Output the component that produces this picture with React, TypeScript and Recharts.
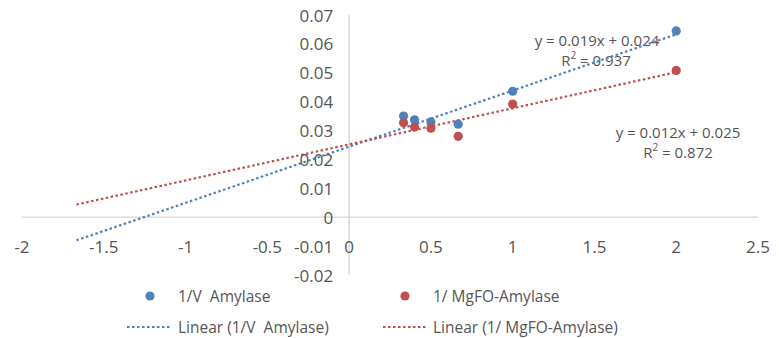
import { Legend, ReferenceLine, Scatter, ScatterChart, XAxis, YAxis } from "recharts";

// 1/[S] values shared by both series
const invSubstrate = [0.333, 0.4, 0.5, 0.667, 1, 2];
const invVAmylase = [0.035, 0.0337, 0.033, 0.0322, 0.0436, 0.0645];
const invVMgfo = [0.0327, 0.0312, 0.0308, 0.028, 0.0392, 0.0508];

// trendline end points (backward forecast to -1.667)
const amylaseTrend = [
  { x: -1.667, y: -0.008 },
  { x: 2, y: 0.0633 }
];
const mgfoTrend = [
  { x: -1.667, y: 0.0044 },
  { x: 2, y: 0.0502 }
];

const xTicks = [-2, -1.5, -1, -0.5, 0, 0.5, 1, 1.5, 2, 2.5];
const yTicks = [-0.02, -0.01, 0, 0.01, 0.02, 0.03, 0.04, 0.05, 0.06, 0.07];

const amylaseData = invSubstrate.map((x, i) => ({ x, y: invVAmylase[i] }));
const mgfoData = invSubstrate.map((x, i) => ({ x, y: invVMgfo[i] }));

const W = 779;
const H = 338;
const M = { top: 15, right: 21, bottom: 62, left: 21 };
const X_MIN = -2;
const X_MAX = 2.5;
const Y_MIN = -0.02;
const Y_MAX = 0.07;
const plotLeft = 22;
const plotW = W - plotLeft - M.right;
const plotH = H - M.top - M.bottom - 1;
const zeroX = plotLeft + ((0 - X_MIN) / (X_MAX - X_MIN)) * plotW;
const xLabelY = M.top + ((Y_MAX + 0.01) / (Y_MAX - Y_MIN)) * plotH;

const BLUE = "#4F81BD";
const RED = "#C0504D";
const TEXT = "#555555";
const AXIS = "#D4D4D4";
const FONT = "'Open Sans', sans-serif";
const DOTS = "2.5 2.5";

const dot = (color: string) => (p: any) => <circle cx={p.cx} cy={p.cy} r={4.6} fill={color} />;

const yTick = ({ y, payload }: any) => (
  <text x={zeroX - 16} y={y} textAnchor="end" dominantBaseline="central" fill={TEXT} fontSize={17} fontFamily={FONT}>
    {payload.value}
  </text>
);

const xTick = ({ x, payload }: any) => (
  <text x={x} y={xLabelY} textAnchor="middle" dominantBaseline="central" fill={TEXT} fontSize={17} fontFamily={FONT}>
    {payload.value}
  </text>
);

function LegendBox() {
  const t = {
    fill: TEXT,
    fontSize: 15.5,
    fontFamily: FONT,
    dominantBaseline: "central" as const,
    style: { whiteSpace: "pre" as const }
  };
  return (
    <svg width={W} height={56} style={{ display: "block", overflow: "visible" }}>
      <circle cx={150} cy={14} r={4.6} fill={BLUE} />
      <text x={178} y={14} {...t}>{"1/V  Amylase"}</text>
      <circle cx={405} cy={14} r={4.6} fill={RED} />
      <text x={433} y={14} {...t}>{"1/ MgFO-Amylase"}</text>
      <line x1={127} x2={170} y1={45} y2={45} stroke={BLUE} strokeWidth={2} strokeDasharray={DOTS} />
      <text x={178} y={45} {...t}>{"Linear (1/V  Amylase)"}</text>
      <line x1={383} x2={426} y1={45} y2={45} stroke={RED} strokeWidth={2} strokeDasharray={DOTS} />
      <text x={433} y={45} {...t}>{"Linear (1/ MgFO-Amylase)"}</text>
    </svg>
  );
}

export default function App() {
  const eq = { fill: TEXT, fontSize: 15, fontFamily: FONT, textAnchor: "middle" as const, dominantBaseline: "central" as const };
  return (
    <div style={{ position: "absolute", left: 0, top: 0, width: W, height: H, background: "#fff" }}>
      <ScatterChart width={W} height={H} margin={M}>
        <XAxis
          type="number"
          dataKey="x"
          domain={[X_MIN, X_MAX]}
          ticks={xTicks}
          interval={0}
          axisLine={false}
          tickLine={false}
          height={1}
          tick={xTick}
          allowDataOverflow
        />
        <YAxis
          type="number"
          dataKey="y"
          domain={[Y_MIN, Y_MAX]}
          ticks={yTicks}
          interval={0}
          axisLine={false}
          tickLine={false}
          width={1}
          tick={yTick}
          allowDataOverflow
        />
        <ReferenceLine y={0} stroke={AXIS} strokeWidth={1.3} />
        <ReferenceLine x={0} stroke={AXIS} strokeWidth={1.3} />
        <Scatter name="1/V  Amylase" data={amylaseData} shape={dot(BLUE)} isAnimationActive={false} />
        <Scatter name="1/ MgFO-Amylase" data={mgfoData} shape={dot(RED)} isAnimationActive={false} />
        <ReferenceLine segment={amylaseTrend} stroke={BLUE} strokeWidth={2.2} strokeDasharray={DOTS} ifOverflow="visible" />
        <ReferenceLine segment={mgfoTrend} stroke={RED} strokeWidth={2.2} strokeDasharray={DOTS} ifOverflow="visible" />
        <text x={597} y={40} {...eq}>y = 0.019x + 0.024</text>
        <text x={596} y={60} {...eq}>
          R<tspan fontSize={10} dy={-5}>2</tspan>
          <tspan dy={5}> = 0.937</tspan>
        </text>
        <text x={678} y={132} {...eq}>y = 0.012x + 0.025</text>
        <text x={678} y={152} {...eq}>
          R<tspan fontSize={10} dy={-5}>2</tspan>
          <tspan dy={5}> = 0.872</tspan>
        </text>
        <Legend
          verticalAlign="middle"
          layout="horizontal"
          content={<LegendBox />}
          wrapperStyle={{ top: 282, left: 0, width: W, height: 56 }}
        />
      </ScatterChart>
    </div>
  );
}
